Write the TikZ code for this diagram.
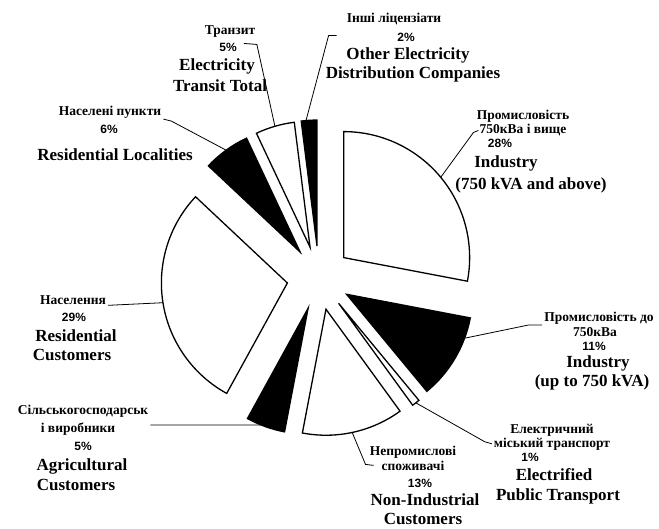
\documentclass[tikz,border=0pt]{standalone}
\usepackage{fontspec}
\setmainfont{Liberation Serif}
\newfontfamily\pctfont{Liberation Sans}
\usetikzlibrary{calc}
\newcommand\pieslice[4]{%
  \path (C) ++({(#2+#3)/2}:32) coordinate (#1);
  \draw[#4] (#1) -- ++(#2:126) arc[start angle=#2, end angle=#3, radius=126] -- cycle;
}
\begin{document}
\begin{tikzpicture}[x=1pt,y=1pt,
  en/.style={font=\fontsize{17}{17}\selectfont\bfseries, anchor=base, inner sep=0pt},
  ua/.style={font=\fontsize{13.5}{13.5}\selectfont\bfseries, anchor=base, inner sep=0pt},
  pct/.style={font=\pctfont\fontsize{12}{12}\selectfont\bfseries, anchor=base, inner sep=0pt},
  lead/.style={draw=black, line width=0.8pt},
  wslice/.style={fill=white, draw=black, line width=1.3pt, line join=miter},
  bslice/.style={fill=black, draw=black, line width=1.3pt, line join=miter}]
\useasboundingbox[fill=white] (0,0) rectangle (659,-529);
\coordinate (C) at (319,-278);
% slices
\pieslice{pI28}{90}{-10.8}{wslice}
\pieslice{pI11}{-10.8}{-50.4}{bslice}
\pieslice{pTp}{-50.4}{-54}{wslice}
\pieslice{pNi}{-54}{-100.8}{wslice}
\pieslice{pAg}{-100.8}{-118.8}{bslice}
\pieslice{pRe}{-118.8}{-223.2}{wslice}
\pieslice{pLo}{136.8}{115.2}{bslice}
\pieslice{pTr}{115.2}{97.2}{wslice}
\pieslice{pOt}{97.2}{90}{bslice}
% arc points
\coordinate (aI28) at ($(pI28)+(39.6:126)$);
\coordinate (aI11) at ($(pI11)+(-20.4:126)$);
\coordinate (aTp) at ($(pTp)+(-52.2:126)$);
\coordinate (aNi) at ($(pNi)+(-78:126)$);
\coordinate (aAg) at ($(pAg)+(-112:126)$);
\coordinate (aRe) at ($(pRe)+(189:126)$);
\coordinate (aLo) at ($(pLo)+(126:126)$);
\coordinate (aTr) at ($(pTr)+(106.2:126)$);
\coordinate (aOt) at ($(pOt)+(95:126)$);
% Transit
\node[ua]  (tr1) at (230,-35) {Транзит};
\node[pct] (tr2) at (228,-52) {5\%};
\node[en]  (tr3) at (217,-71) {Electricity};
\node[en]  (tr4) at (220,-92) {Transit Total};
% Localities
\node[ua]  (lo1) at (110,-116) {Населені пункти};
\node[pct] (lo2) at (109,-134) {6\%};
\node[en]  (lo3) at (115,-161) {Residential Localities};
% Other
\node[ua]  (ot1) at (394,-23) {Інші ліцензіати};
\node[pct] (ot2) at (406,-42) {2\%};
\node[en]  (ot3) at (408,-60) {Other Electricity};
\node[en]  (ot4) at (413,-79) {Distribution Companies};
% Industry 28
\node[ua]  (i1) at (523,-120) {Промисловість};
\node[ua]  (i2) at (523,-134) {750кВа і вище};
\node[pct] (i3) at (500,-148) {28\%};
\node[en]  (i4) at (506,-168) {Industry};
\node[en]  (i5) at (531,-190) {(750 kVA and above)};
% Residential
\node[ua]  (re1) at (73,-305) {Населення};
\node[pct] (re2) at (74,-322) {29\%};
\node[en]  (re3) at (76,-342) {Residential};
\node[en]  (re4) at (72,-361) {Customers};
% Industry 11
\node[ua]  (j1) at (599,-322) {Промисловість до};
\node[ua]  (j2) at (595,-337) {750кВа};
\node[pct] (j3) at (594,-351) {11\%};
\node[en]  (j4) at (598,-368) {Industry};
\node[en]  (j5) at (592,-387) {(up to 750 kVA)};
% Transport
\node[ua]  (t1) at (552,-433) {Електричний};
\node[ua]  (t2) at (552,-447) {міський транспорт};
\node[pct] (t3) at (530,-461) {1\%};
\node[en]  (t4) at (554,-480) {Electrified};
\node[en]  (t5) at (558,-500) {Public Transport};
% Non-industrial
\node[ua]  (n1) at (413,-455) {Непромислові};
\node[ua]  (n2) at (413,-470) {споживачі};
\node[pct] (n3) at (420,-487) {13\%};
\node[en]  (n4) at (425,-505) {Non-Industrial};
\node[en]  (n5) at (423,-524) {Customers};
% Agricultural
\node[ua]  (a1) at (83,-414) {Сільськогосподарськ};
\node[ua]  (a2) at (78,-432) {і виробники};
\node[pct] (a3) at (83,-450) {5\%};
\node[en]  (a4) at (82,-470) {Agricultural};
\node[en]  (a5) at (76,-490) {Customers};
% leaders
\draw[lead] ([xshift=7pt]tr2.north east) -- ++(13,-1) -- (aTr);
\draw[lead] ([xshift=2pt]lo1.south east) -- ++(8,-2) -- (aLo);
\draw[lead] ([shift={(-10,-10)}]ot1.south west) -- ++(-8,0) -- (aOt);
\draw[lead] ([xshift=-1pt]i2.west) -- ++(-5,-2) -- (aI28);
\draw[lead] ([xshift=2pt]re1.south east) -- (aRe);
\draw[lead] ([xshift=-2pt]j1.south west) -- ++(-14,0) -- (aI11);
\draw[lead] ([xshift=-2pt]t2.west) -- ++(-7,2) -- (aTp);
\draw[lead] ([xshift=-8pt]n2.west) -- ++(-8,1) -- (aNi);
\draw[lead] ([shift={(2,-8)}]a1.south east) -- (aAg);
\end{tikzpicture}
\end{document}
